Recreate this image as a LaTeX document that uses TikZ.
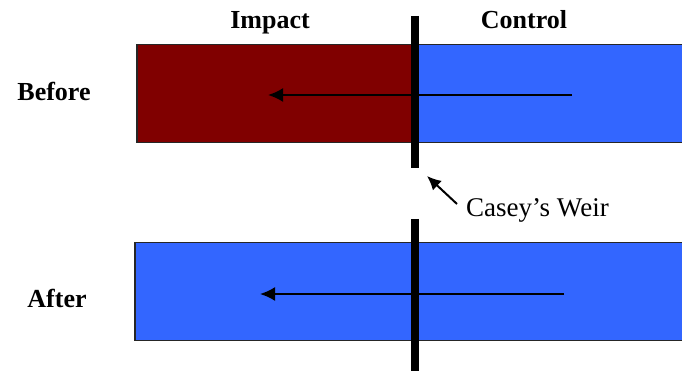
\documentclass[tikz,border=0pt]{standalone}
\usepackage{fontspec}
\setmainfont{Liberation Serif}
\usetikzlibrary{arrows.meta}

\definecolor{impactcol}{RGB}{128,0,0}
\definecolor{controlcol}{RGB}{51,102,255}

\begin{document}
\begin{tikzpicture}[
    x=1pt, y=-1pt,
    font=\fontsize{27}{31}\selectfont,
    reach/.style={draw=black!85, line width=1.5pt, inner sep=0pt, minimum height=98pt},
    impactreach/.style={reach, fill=impactcol},
    controlreach/.style={reach, fill=controlcol},
    heading/.style={anchor=base, inner sep=0pt, font=\fontsize{26}{30}\selectfont\bfseries},
    flowarrow/.style={-{Latex[length=15pt, width=14pt]}, draw=black, line width=2pt},
    pointarrow/.style={-{Latex[length=14pt, width=13pt]}, draw=black, line width=2pt},
    weirline/.style={draw=black, line width=8pt}
  ]
  \clip (0,0) rectangle (682,371);

  \coordinate (bip) at (276, 93.5);
  \coordinate (bcp) at (553, 93.5);
  \coordinate (ap)  at (413, 291.5);

  % Reaches
  \node[impactreach, minimum width=278pt] (bimpact) at (bip) {};
  \node[controlreach, minimum width=276pt] (bcontrol) at (bcp) {};
  \node[controlreach, minimum width=556pt] (after) at (ap) {};

  % Headings
  \node[heading] (impact) at (270, 29) {Impact};
  \node[heading] (control) at (524, 29) {Control};
  \node[heading] (before) at (54, 101) {Before};
  \node[heading] (afterlab) at (57, 307) {After};

  % Flow
  \coordinate (bfrom) at (572, 95);
  \coordinate (bto)   at (268, 95);
  \coordinate (afrom) at (564, 294);
  \coordinate (ato)   at (260, 294);
  \draw[flowarrow] (bfrom) -- (bto);
  \draw[flowarrow] (afrom) -- (ato);

  % Weir
  \coordinate (w0top) at (415, 16);
  \coordinate (w0bot) at (415, 168);
  \coordinate (w1top) at (415, 219);
  \coordinate (w1bot) at (415, 380);
  \draw[weirline] (w0top) -- (w0bot);
  \draw[weirline] (w1top) -- (w1bot);

  \node[anchor=base west, inner sep=0pt] (weir) at (466, 217) {Casey’s Weir};
  \coordinate (weirtail) at (457, 204);
  \coordinate (weirtip) at (427, 176);
  \draw[pointarrow] (weirtail) -- (weirtip);

\end{tikzpicture}
\end{document}
